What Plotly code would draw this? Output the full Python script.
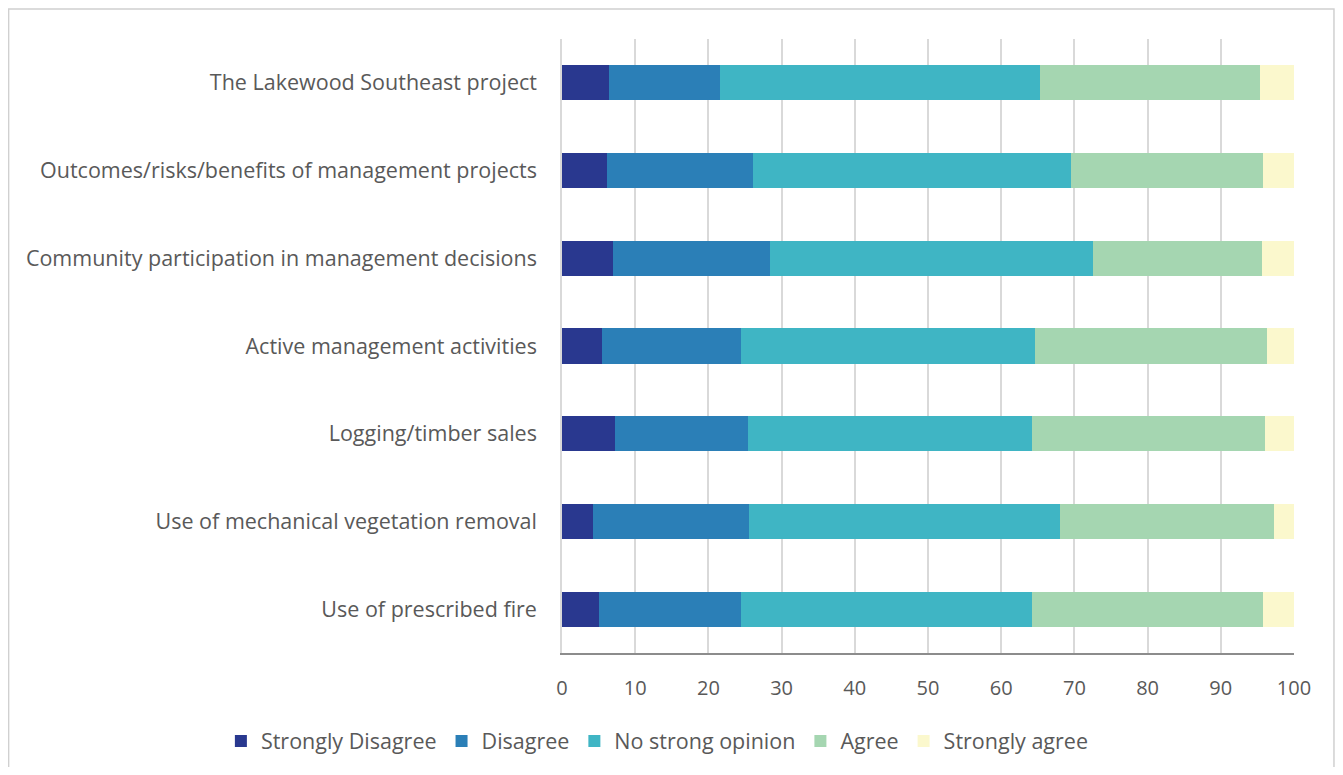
import plotly.graph_objects as go

topics = [
    "The Lakewood Southeast project",
    "Outcomes/risks/benefits of management projects",
    "Community participation in management decisions",
    "Active management activities",
    "Logging/timber sales",
    "Use of mechanical vegetation removal",
    "Use of prescribed fire",
]

strongly_disagree = [6.4, 6.2, 7.0, 5.4, 7.3, 4.3, 5.1]
disagree = [15.2, 19.9, 21.4, 19.1, 18.1, 21.2, 19.3]
no_strong_opinion = [43.7, 43.4, 44.1, 40.1, 38.8, 42.6, 39.8]
agree = [30.1, 26.3, 23.1, 31.7, 31.8, 29.1, 31.5]
strongly_agree = [4.6, 4.2, 4.4, 3.7, 4.0, 2.8, 4.3]

x_ticks = [0, 10, 20, 30, 40, 50, 60, 70, 80, 90, 100]

series = [
    ("Strongly Disagree", strongly_disagree, "#29388f"),
    ("Disagree", disagree, "#2b7fb7"),
    ("No strong opinion", no_strong_opinion, "#3fb5c4"),
    ("Agree", agree, "#a5d6b1"),
    ("Strongly agree", strongly_agree, "#fbf8cd"),
]

TEXT = "#595959"
FONT = "Open Sans"

fig = go.Figure()
for name, values, color in series:
    fig.add_trace(
        go.Bar(
            y=topics,
            x=values,
            name=name,
            orientation="h",
            marker=dict(color=color, line=dict(width=0)),
        )
    )

# outer chart frame
fig.add_shape(
    type="rect",
    xref="paper",
    yref="paper",
    x0=-0.756,
    x1=1.0546,
    y0=-0.3,
    y1=1.0489,
    line=dict(color="#d0d0d0", width=1.5),
    fillcolor="rgba(0,0,0,0)",
    layer="below",
)

fig.update_layout(
    barmode="stack",
    bargap=0.6,
    width=1327,
    height=759,
    paper_bgcolor="white",
    plot_bgcolor="white",
    font=dict(family=FONT, color=TEXT),
    margin=dict(l=554, r=41, t=31, b=114, autoexpand=False),
    legend=dict(
        orientation="h",
        x=-0.466,
        xanchor="left",
        y=-0.1433,
        yanchor="middle",
        font=dict(family=FONT, size=21.5, color=TEXT),
        traceorder="normal",
        itemwidth=30,
    ),
    showlegend=True,
)

fig.update_xaxes(
    range=[0, 100],
    tickvals=x_ticks,
    showgrid=True,
    gridcolor="#d9d9d9",
    gridwidth=1.5,
    showline=True,
    linecolor="#8c8c8c",
    linewidth=2,
    zeroline=False,
    ticks="",
    tickfont=dict(family=FONT, size=20, color=TEXT),
    ticklabelstandoff=16,
)

fig.update_yaxes(
    autorange="reversed",
    showline=True,
    linecolor="#d9d9d9",
    linewidth=1.5,
    ticks="",
    tickfont=dict(family=FONT, size=21.5, color=TEXT),
    ticklabelstandoff=19,
)

fig.write_html("out.html")
